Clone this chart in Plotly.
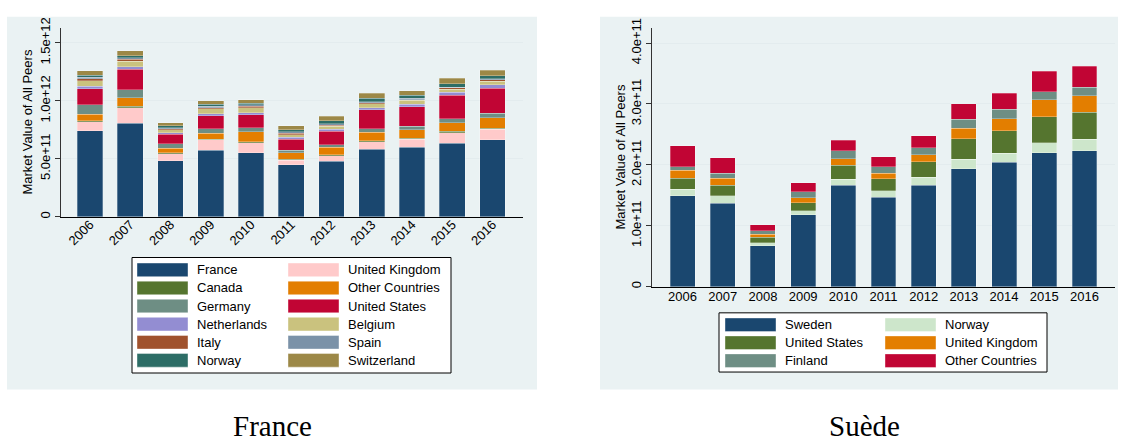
import plotly.graph_objects as go

# ---------------------------------------------------------------------------
# Data: market value of peers by country of origin (units of 1e11 USD)
# ---------------------------------------------------------------------------
SCALE = 1e11
years = ["2006", "2007", "2008", "2009", "2010", "2011",
         "2012", "2013", "2014", "2015", "2016"]

# France panel (stacked bottom -> top)
fr_france      = [7.41, 8.05, 4.83, 5.73, 5.53, 4.47, 4.80, 5.84, 5.98, 6.34, 6.65]
fr_uk          = [0.78, 1.34, 0.62, 0.89, 0.84, 0.39, 0.48, 0.64, 0.72, 0.92, 0.89]
fr_canada      = [0.09, 0.12, 0.05, 0.06, 0.08, 0.08, 0.06, 0.08, 0.09, 0.11, 0.11]
fr_other       = [0.57, 0.74, 0.42, 0.53, 0.90, 0.56, 0.64, 0.73, 0.70, 0.73, 0.87]
fr_germany     = [0.82, 0.70, 0.36, 0.39, 0.33, 0.25, 0.22, 0.31, 0.30, 0.36, 0.42]
fr_us          = [1.37, 1.76, 0.84, 1.12, 1.12, 0.93, 1.17, 1.62, 1.68, 2.01, 2.15]
fr_netherlands = [0.22, 0.24, 0.14, 0.16, 0.19, 0.16, 0.17, 0.19, 0.25, 0.26, 0.28]
fr_belgium     = [0.45, 0.46, 0.23, 0.45, 0.42, 0.23, 0.28, 0.34, 0.31, 0.25, 0.33]
fr_italy       = [0.18, 0.18, 0.11, 0.08, 0.12, 0.14, 0.09, 0.08, 0.08, 0.14, 0.12]
fr_spain       = [0.14, 0.14, 0.08, 0.12, 0.11, 0.11, 0.11, 0.09, 0.09, 0.05, 0.08]
fr_norway      = [0.18, 0.16, 0.17, 0.16, 0.16, 0.17, 0.25, 0.30, 0.27, 0.31, 0.28]
fr_switzerland = [0.40, 0.44, 0.25, 0.31, 0.31, 0.36, 0.39, 0.42, 0.40, 0.45, 0.47]

fr_names = ["France", "United Kingdom", "Canada", "Other Countries", "Germany",
            "United States", "Netherlands", "Belgium", "Italy", "Spain",
            "Norway", "Switzerland"]
fr_values = [fr_france, fr_uk, fr_canada, fr_other, fr_germany, fr_us,
             fr_netherlands, fr_belgium, fr_italy, fr_spain, fr_norway,
             fr_switzerland]
fr_colors = ["#1a476f", "#ffcaca", "#55752f", "#e37e00", "#6e8e84", "#c10534",
             "#938dd2", "#cac27e", "#a0522d", "#7b92a8", "#2d6d66", "#9c8847"]

# Sweden panel (stacked bottom -> top)
se_sweden  = [1.49, 1.37, 0.675, 1.18, 1.665, 1.47, 1.665, 1.936, 2.04, 2.20, 2.234]
se_norway  = [0.11, 0.12, 0.045, 0.065, 0.10, 0.105, 0.135, 0.16, 0.15, 0.16, 0.186]
se_us      = [0.18, 0.175, 0.09, 0.135, 0.23, 0.195, 0.25, 0.335, 0.37, 0.43, 0.447]
se_uk      = [0.13, 0.115, 0.05, 0.08, 0.105, 0.095, 0.115, 0.17, 0.20, 0.28, 0.265]
se_finland = [0.06, 0.08, 0.055, 0.10, 0.13, 0.10, 0.115, 0.15, 0.15, 0.13, 0.14]
se_other   = [0.34, 0.26, 0.105, 0.15, 0.17, 0.17, 0.20, 0.25, 0.265, 0.34, 0.35]

se_names = ["Sweden", "Norway", "United States", "United Kingdom", "Finland",
            "Other Countries"]
se_values = [se_sweden, se_norway, se_us, se_uk, se_finland, se_other]
se_colors = ["#1a476f", "#cde6cb", "#55752f", "#e37e00", "#6e8e84", "#c10534"]

fr_ticks = [0, 5e11, 1e12, 1.5e12]
fr_ticktext = ["0", "5.0e+11", "1.0e+12", "1.5e+12"]
se_ticks = [0, 1e11, 2e11, 3e11, 4e11]
se_ticktext = ["0", "1.0e+11", "2.0e+11", "3.0e+11", "4.0e+11"]

# ---------------------------------------------------------------------------
# Layout helpers (pixel -> paper coordinates)
# ---------------------------------------------------------------------------
W, H = 1123, 441
def px(x):
    return x / W
def py(y):
    return 1 - y / H

SANS = "Liberation Sans, Arial, sans-serif"
SERIF = "Liberation Serif, Times New Roman, serif"
BG = "#eaf2f3"
GRID = "#e3ecee"

fig = go.Figure()

for name, vals, col in zip(fr_names, fr_values, fr_colors):
    fig.add_trace(go.Bar(
        x=years, y=[v * SCALE for v in vals], name=name,
        marker=dict(color=col, line=dict(color="rgba(255,255,255,0.35)", width=0.8)),
        width=0.64, xaxis="x", yaxis="y", showlegend=False))

for name, vals, col in zip(se_names, se_values, se_colors):
    fig.add_trace(go.Bar(
        x=years, y=[v * SCALE for v in vals], name=name,
        marker=dict(color=col, line=dict(color="rgba(255,255,255,0.35)", width=0.8)),
        width=0.62, xaxis="x2", yaxis="y2", showlegend=False))

axis_font = dict(family=SANS, size=13, color="#000000")

fig.update_layout(
    width=W, height=H,
    margin=dict(l=0, r=0, t=0, b=0),
    paper_bgcolor="white", plot_bgcolor="white",
    barmode="stack",
    font=axis_font,
    xaxis=dict(domain=[px(61), px(523)], anchor="y", type="category",
               range=[-0.72, 10.76], tickangle=-45, ticks="",
               ticklabelstandoff=-6,
               showline=True, linecolor="#000000", linewidth=1.2,
               tickfont=axis_font, showgrid=False, fixedrange=True),
    yaxis=dict(domain=[py(212), py(18)], anchor="x",
               range=[0, 1.624e12], tickvals=fr_ticks, ticktext=fr_ticktext,
               tickangle=-90, ticks="outside", ticklen=5, tickcolor="#333333",
               showline=True, linecolor="#333333", linewidth=1.2,
               showgrid=True, gridcolor=GRID, gridwidth=1, zeroline=False,
               tickfont=axis_font, fixedrange=True),
    xaxis2=dict(domain=[px(652), px(1115)], anchor="y2", type="category",
                range=[-0.76, 10.76], tickangle=0, ticks="",
                ticklabelstandoff=-2,
                showline=True, linecolor="#000000", linewidth=1.2,
                tickfont=axis_font, showgrid=False, fixedrange=True),
    yaxis2=dict(domain=[py(284), py(18)], anchor="x2",
                range=[0, 4.24e11], tickvals=se_ticks, ticktext=se_ticktext,
                tickangle=-90, ticks="outside", ticklen=5, tickcolor="#333333",
                showline=True, linecolor="#333333", linewidth=1.2,
                showgrid=True, gridcolor=GRID, gridwidth=1, zeroline=False,
                tickfont=axis_font, fixedrange=True),
)

shapes = []
annotations = []

# Panel backgrounds
for x0, x1 in [(7, 537), (600, 1118)]:
    shapes.append(dict(type="rect", xref="paper", yref="paper",
                       x0=px(x0), x1=px(x1), y0=py(390), y1=py(6),
                       fillcolor=BG, line=dict(width=0), layer="below"))

# Y axis titles
for xc, yc in [(28, 115), (621, 151)]:
    annotations.append(dict(text="Market Value of All Peers", xref="paper", yref="paper",
                            x=px(xc), y=py(yc), textangle=-90, showarrow=False,
                            font=dict(family=SANS, size=13, color="#000000"),
                            xanchor="center", yanchor="middle"))

# Legends drawn as boxed two-column keys
def draw_legend(names, colors, box, col_x, row_y0, row_step):
    bx0, by0, bx1, by1 = box
    shapes.append(dict(type="rect", xref="paper", yref="paper",
                       x0=px(bx0), x1=px(bx1), y0=py(by1), y1=py(by0),
                       fillcolor="white", line=dict(color="#000000", width=1)))
    for i, (name, col) in enumerate(zip(names, colors)):
        r, c = divmod(i, 2)
        sx = col_x[c]
        yc = row_y0 + r * row_step
        shapes.append(dict(type="rect", xref="paper", yref="paper",
                           x0=px(sx), x1=px(sx + 51), y0=py(yc + 7), y1=py(yc - 7),
                           fillcolor=col, line=dict(color="rgba(255,255,255,0.5)", width=0.8)))
        annotations.append(dict(text=name, xref="paper", yref="paper",
                                x=px(sx + 58), y=py(yc), showarrow=False,
                                xanchor="left", yanchor="middle",
                                font=dict(family=SANS, size=13, color="#000000")))

draw_legend(fr_names, fr_colors, (132, 254, 451, 373), (137, 288), 266.7, 18.65)
draw_legend(se_names, se_colors, (719, 311, 1047, 372), (725, 885), 323.3, 18.5)

# Panel captions
for text, xc in [("France", 272), ("Suède", 864)]:
    annotations.append(dict(text=text, xref="paper", yref="paper",
                            x=px(xc), y=py(428), showarrow=False,
                            xanchor="center", yanchor="middle",
                            font=dict(family=SERIF, size=29, color="#000000")))

fig.update_layout(shapes=shapes, annotations=annotations)

fig.write_html("out.html")
